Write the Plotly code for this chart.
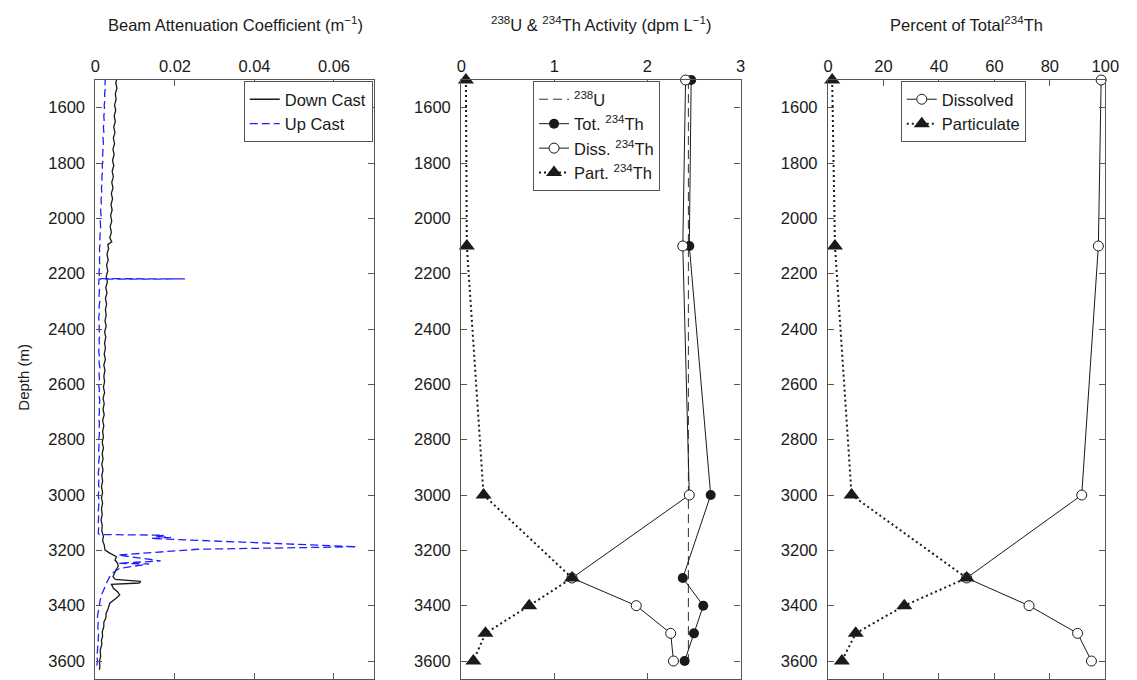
import plotly.graph_objects as go

# ---------------------------------------------------------------------------
# Beam attenuation profiles from the CTD transmissometer (depth in m, c in m^-1)
# ---------------------------------------------------------------------------
down_depth = [1490, 1510, 1530, 1550, 1570, 1590, 1610, 1630, 1650, 1670,
              1690, 1710, 1730, 1750, 1770, 1790, 1810, 1830, 1850, 1870,
              1890, 1910, 1930, 1950, 1970, 1990, 2010, 2030, 2050, 2070,
              2085, 2095,
              2110, 2130, 2150, 2170, 2190, 2210, 2230, 2250, 2270, 2290,
              2310, 2330, 2350, 2370, 2390, 2410, 2430, 2450, 2470, 2490,
              2510, 2530, 2550, 2570, 2590, 2610, 2630, 2650, 2670, 2690,
              2710, 2730, 2750, 2770, 2790, 2810, 2830, 2850, 2870, 2890,
              2910, 2930, 2950, 2970, 2990, 3010, 3030, 3050, 3070, 3090,
              3110, 3130,
              3150, 3165, 3180, 3199, 3210, 3223, 3235, 3247, 3259, 3271,
              3283, 3295, 3305, 3312, 3318, 3323, 3330, 3337, 3349, 3361,
              3373, 3391, 3410, 3427, 3445, 3460, 3476, 3495, 3510, 3524,
              3540, 3560, 3584, 3600, 3620, 3632]
down_c = [0.0055, 0.0051, 0.0054, 0.0050, 0.0052, 0.0048, 0.0051, 0.0047, 0.0050, 0.0046,
          0.0049, 0.0045, 0.0048, 0.0044, 0.0047, 0.0043, 0.0046, 0.0042, 0.0045, 0.0041,
          0.0044, 0.0040, 0.0043, 0.0039, 0.0042, 0.0038, 0.0041, 0.0037, 0.0040, 0.0036,
          0.0041, 0.0031,
          0.0033, 0.0029, 0.0032, 0.0028, 0.0031, 0.0027, 0.0030, 0.0026, 0.0029, 0.0025,
          0.0028, 0.0025, 0.0027, 0.0024, 0.0027, 0.0023, 0.0026, 0.0023, 0.0025, 0.0022,
          0.0025, 0.0021, 0.0024, 0.0021, 0.0023, 0.0020, 0.0023, 0.0019, 0.0022, 0.0019,
          0.0022, 0.0018, 0.0021, 0.0018, 0.0020, 0.0017, 0.0020, 0.0017, 0.0019, 0.0016,
          0.0019, 0.0016, 0.0018, 0.0015, 0.0018, 0.0015, 0.0018, 0.0015, 0.0017, 0.0014,
          0.0017, 0.0016,
          0.0020, 0.0018, 0.0022, 0.0024, 0.0036, 0.0053, 0.0049, 0.0056, 0.0057, 0.0051,
          0.0048, 0.0044, 0.0050, 0.0114, 0.0110, 0.0040, 0.0043, 0.0045, 0.0055, 0.0061,
          0.0052, 0.0036, 0.0032, 0.0027, 0.0026, 0.0021, 0.0021, 0.0017, 0.0018, 0.0015,
          0.0016, 0.0012, 0.0013, 0.0010, 0.0011, 0.0010]

up_depth = [1490, 1510, 1530, 1550, 1570, 1590, 1610, 1630, 1650, 1670,
            1690, 1710, 1730, 1750, 1770, 1790, 1810, 1830, 1850, 1870,
            1890, 1910, 1930, 1950, 1970, 1990, 2010, 2030, 2050, 2070,
            2090, 2110, 2130, 2150, 2170, 2190, 2210, 2218, 2219, 2220,
            2240, 2260, 2280, 2300, 2320, 2340, 2360, 2380, 2400, 2420,
            2440, 2460, 2480, 2500, 2520, 2540, 2560, 2580, 2600, 2620,
            2640, 2660, 2680, 2700, 2720, 2740, 2760, 2780, 2800, 2820,
            2840, 2860, 2880, 2900, 2920, 2940, 2960, 2980, 3000, 3020,
            3040, 3060, 3080, 3100, 3120, 3138, 3143, 3145, 3150, 3153,
            3157, 3160, 3187, 3196, 3217, 3238, 3247, 3249, 3265, 3280,
            3295, 3312, 3331, 3355, 3379, 3400, 3420, 3439, 3460, 3480,
            3500, 3524, 3545, 3565, 3585, 3600, 3620, 3630]
up_c = [0.0025, 0.0024, 0.0025, 0.0023, 0.0024, 0.0022, 0.0023, 0.0021, 0.0022, 0.0020,
        0.0021, 0.0019, 0.0020, 0.0019, 0.0018, 0.0019, 0.0017, 0.0018, 0.0016, 0.0017,
        0.0015, 0.0016, 0.0014, 0.0015, 0.0013, 0.0014, 0.0012, 0.0013, 0.0012, 0.0011,
        0.0012, 0.0010, 0.0011, 0.0010, 0.0011, 0.0009, 0.0010, 0.0009, 0.0225, 0.0009,
        0.0008, 0.0010, 0.0009, 0.0011, 0.0009, 0.0010, 0.0008, 0.0010, 0.0009, 0.0011,
        0.0009, 0.0010, 0.0008, 0.0010, 0.0009, 0.0011, 0.0009, 0.0010, 0.0008, 0.0010,
        0.0009, 0.0011, 0.0009, 0.0010, 0.0008, 0.0010, 0.0009, 0.0010, 0.0008, 0.0009,
        0.0008, 0.0010, 0.0008, 0.0009, 0.0007, 0.0009, 0.0008, 0.0009, 0.0007, 0.0009,
        0.0008, 0.0007, 0.0008, 0.0007, 0.0008, 0.0007, 0.0010, 0.0172, 0.0150, 0.0190,
        0.0140, 0.0193, 0.0657, 0.0258, 0.0057, 0.0164, 0.0057, 0.0135, 0.0061, 0.0045,
        0.0036, 0.0030, 0.0024, 0.0017, 0.0012, 0.0009, 0.0007, 0.0005, 0.0007, 0.0006,
        0.0008, 0.0007, 0.0005, 0.0006, 0.0004, 0.0005, 0.0003, 0.0004]

# ---------------------------------------------------------------------------
# Bottle / pump samples: 238U and 234Th activities (dpm L^-1)
# ---------------------------------------------------------------------------
sample_depth = [1500, 2100, 3000, 3300, 3400, 3500, 3600]
u238 = [2.44, 2.44, 2.44, 2.44, 2.44, 2.44, 2.44]
th_total = [2.47, 2.45, 2.68, 2.38, 2.60, 2.50, 2.40]
th_dissolved = [2.41, 2.38, 2.45, 1.19, 1.88, 2.25, 2.28]
th_particulate = [0.05, 0.06, 0.24, 1.19, 0.73, 0.26, 0.13]

# Partitioning of total 234Th (%)
pct_dissolved = [98.5, 97.5, 91.5, 50.0, 72.5, 90.0, 95.0]
pct_particulate = [1.5, 2.5, 8.5, 50.0, 27.5, 10.0, 5.0]

# Axis ticks
depth_ticks = [1600, 1800, 2000, 2200, 2400, 2600, 2800, 3000, 3200, 3400, 3600]
beam_ticks = [0, 0.02, 0.04, 0.06]
beam_tick_labels = ["0", "0.02", "0.04", "0.06"]
act_ticks = [0, 1, 2, 3]
pct_ticks = [0, 20, 40, 60, 80, 100]

# ---------------------------------------------------------------------------
W, H = 1137, 680
MT, MB = 80, 1
PH = H - MT - MB
FONT = "Liberation Sans, Arial, Helvetica, sans-serif"
FS = 16.5
INK = "#1a1a1a"
FRAME = "#555555"


def fx(px):
    return px / W


def fy(py):
    return (H - MB - py) / PH


fig = go.Figure()

# Panel 1: beam attenuation
fig.add_trace(go.Scatter(x=down_c, y=down_depth, mode="lines", name="Down Cast",
                         line=dict(color=INK, width=1.3),
                         xaxis="x", yaxis="y", legend="legend"))
fig.add_trace(go.Scatter(x=up_c, y=up_depth, mode="lines", name="Up Cast",
                         line=dict(color="#1f1fff", width=1.3, dash="8px,4px"),
                         xaxis="x", yaxis="y", legend="legend"))

# Panel 2: activities
fig.add_trace(go.Scatter(x=u238, y=sample_depth, mode="lines",
                         name="<sup>238</sup>U",
                         line=dict(color="#333333", width=1, dash="9px,5px"),
                         xaxis="x2", yaxis="y2", legend="legend2"))
fig.add_trace(go.Scatter(x=th_total, y=sample_depth, mode="lines+markers",
                         name="Tot. <sup>234</sup>Th",
                         line=dict(color=INK, width=1),
                         marker=dict(symbol="circle", size=10, color=INK),
                         cliponaxis=False,
                         xaxis="x2", yaxis="y2", legend="legend2"))
fig.add_trace(go.Scatter(x=th_dissolved, y=sample_depth, mode="lines+markers",
                         name="Diss. <sup>234</sup>Th",
                         line=dict(color=INK, width=1),
                         marker=dict(symbol="circle", size=10, color="white",
                                     line=dict(color=INK, width=1)),
                         cliponaxis=False,
                         xaxis="x2", yaxis="y2", legend="legend2"))
fig.add_trace(go.Scatter(x=th_particulate, y=sample_depth, mode="lines+markers",
                         name="Part. <sup>234</sup>Th",
                         line=dict(color=INK, width=2, dash="2px,3px"),
                         marker=dict(symbol="triangle-up", size=14, color=INK),
                         cliponaxis=False,
                         xaxis="x2", yaxis="y2", legend="legend2"))

# Panel 3: percent of total
fig.add_trace(go.Scatter(x=pct_dissolved, y=sample_depth, mode="lines+markers",
                         name="Dissolved",
                         line=dict(color=INK, width=1),
                         marker=dict(symbol="circle", size=10, color="white",
                                     line=dict(color=INK, width=1)),
                         cliponaxis=False,
                         xaxis="x3", yaxis="y3", legend="legend3"))
fig.add_trace(go.Scatter(x=pct_particulate, y=sample_depth, mode="lines+markers",
                         name="Particulate",
                         line=dict(color=INK, width=2, dash="2px,3px"),
                         marker=dict(symbol="triangle-up", size=14, color=INK),
                         cliponaxis=False,
                         xaxis="x3", yaxis="y3", legend="legend3"))

axis_style = dict(showline=True, linecolor=FRAME, linewidth=1.3, mirror="ticks",
                  ticks="inside", ticklen=6, tickwidth=1.3, tickcolor=FRAME,
                  showgrid=False, zeroline=False,
                  tickfont=dict(family=FONT, size=FS, color=INK))

y_style = dict(axis_style, range=[3665, 1500], tickvals=depth_ticks,
               ticklabelstandoff=6)

legend_style = dict(yanchor="top", y=fy(81), bgcolor="white",
                    bordercolor=FRAME, borderwidth=1, tracegroupgap=0,
                    font=dict(family=FONT, size=FS, color=INK))

fig.update_layout(
    width=W, height=H,
    margin=dict(l=0, r=0, t=MT, b=MB),
    paper_bgcolor="white", plot_bgcolor="white",
    font=dict(family=FONT, size=FS, color=INK),
    xaxis=dict(axis_style, domain=[fx(92), fx(375)], range=[0, 0.07], side="top",
               tickvals=beam_ticks, ticktext=beam_tick_labels, anchor="y"),
    yaxis=dict(y_style, domain=[0, 1], anchor="x"),
    xaxis2=dict(axis_style, domain=[fx(464), fx(748)], range=[0, 3], side="top",
                tickvals=act_ticks, anchor="y2"),
    yaxis2=dict(y_style, domain=[0, 1], anchor="x2"),
    xaxis3=dict(axis_style, domain=[fx(837), fx(1119)], range=[0, 100], side="top",
                tickvals=pct_ticks, anchor="y3"),
    yaxis3=dict(y_style, domain=[0, 1], anchor="x3"),
    showlegend=True,
    legend=dict(legend_style, x=fx(374), xanchor="right"),
    legend2=dict(legend_style, x=fx(537), xanchor="left"),
    legend3=dict(legend_style, x=fx(911), xanchor="left"),
)

title_font = dict(family=FONT, size=FS, color=INK)
fig.add_annotation(text="Beam Attenuation Coefficient (m<sup>\u22121</sup>)",
                   x=fx(234), y=fy(24), xref="paper", yref="paper",
                   xanchor="center", yanchor="middle", showarrow=False,
                   font=title_font)
fig.add_annotation(text="<sup>238</sup>U & <sup>234</sup>Th Activity (dpm L<sup>\u22121</sup>)",
                   x=fx(606), y=fy(24), xref="paper", yref="paper",
                   xanchor="center", yanchor="middle", showarrow=False,
                   font=title_font)
fig.add_annotation(text="Percent of Total<sup>234</sup>Th",
                   x=fx(978), y=fy(24), xref="paper", yref="paper",
                   xanchor="center", yanchor="middle", showarrow=False,
                   font=title_font)
fig.add_annotation(text="Depth (m)", textangle=-90,
                   x=fx(18), y=fy(377), xref="paper", yref="paper",
                   xanchor="center", yanchor="middle", showarrow=False,
                   font=dict(family=FONT, size=15, color=INK))

fig.write_html("out.html")
